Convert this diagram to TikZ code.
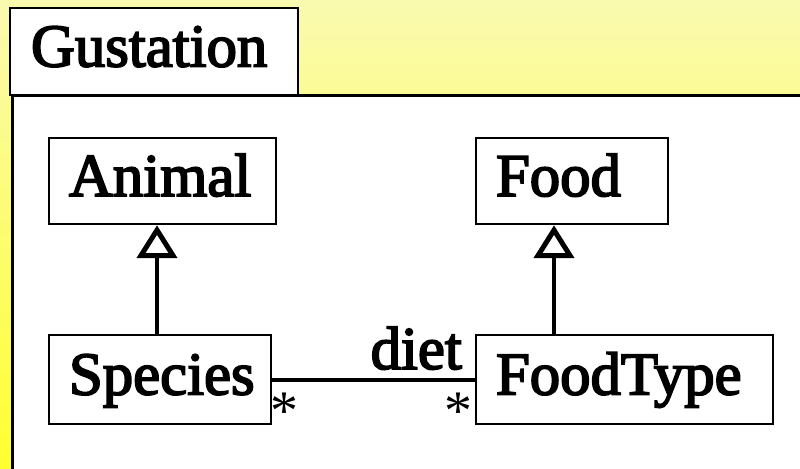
\documentclass[tikz,border=0pt]{standalone}
\usepackage{fontspec}
\setmainfont{Liberation Serif}
\newfontfamily\classfont[FakeBold=3]{Liberation Serif}
\usetikzlibrary{arrows.meta}
\definecolor{paletop}{HTML}{FAFAB0}
\definecolor{deepyellow}{HTML}{FFFF30}
\begin{document}
\begin{tikzpicture}[x=1bp,y=-1bp,
  classbox/.style={draw=black, line width=2.5bp, fill=white,
    inner xsep=20bp, inner ysep=0pt, align=left,
    text height=42bp, text depth=12bp,
    font=\fontsize{61}{63}\selectfont\classfont},
  conn/.style={line width=4bp},
  generalization/.style={conn, -{Triangle[open,length=33bp,width=40bp,line width=5bp]}},
  mult/.style={font=\fontsize{56}{56}\selectfont\rmfamily, inner sep=0pt, anchor=base}
]
\useasboundingbox (0,0) rectangle (800,469);
% yellow backdrop
\shade[top color=paletop, bottom color=deepyellow] (0,0) rectangle (800,469);
% package body
\draw[line width=3bp, fill=white] (12,96) rectangle (830,500);
% package tab
\node[classbox, text width=246bp, inner xsep=21bp, minimum height=87bp] (tab) at (154,51.5) {Gustation};

% classes
\node[classbox, text width=187bp, minimum height=86bp] (animal) at (162.5,181) {Animal};
\node[classbox, text width=152bp, minimum height=86bp] (food) at (572,181) {Food};
\node[classbox, text width=182bp, minimum height=89bp] (species) at (160,379.5) {Species};
\node[classbox, text width=257bp, minimum height=89bp] (foodtype) at (624.5,379.5) {FoodType};

% generalizations
\draw[generalization] (species.north -| 157,0) -- (animal.south -| 157,0);
\draw[generalization] (foodtype.north -| 554,0) -- (food.south -| 554,0);

% association
\draw[conn] (species.east) -- (foodtype.west);
\node[font=\fontsize{61}{63}\selectfont\classfont, inner sep=0pt, anchor=base east] (dietlabel) at (462,369) {diet};
\node[mult] (multl) at (284,429) {*};
\node[mult] (multr) at (458,429) {*};
\end{tikzpicture}
\end{document}
